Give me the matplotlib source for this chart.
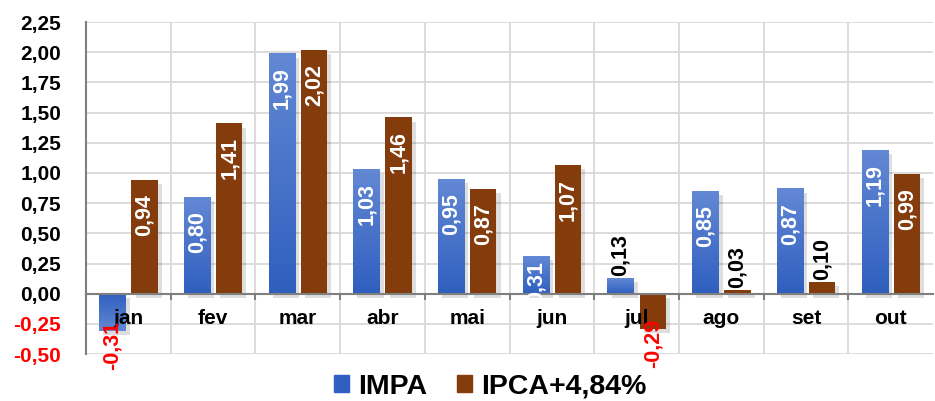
import numpy as np
import matplotlib
matplotlib.use("Agg")
import matplotlib.pyplot as plt
import matplotlib.patheffects as pe
from matplotlib.colors import LinearSegmentedColormap
from matplotlib.patches import Patch

plt.rcParams["font.family"] = ["Liberation Sans", "DejaVu Sans"]
plt.rcParams["font.weight"] = "bold"

months = ["jan", "fev", "mar", "abr", "mai", "jun", "jul", "ago", "set", "out"]
impa = [-0.31, 0.80, 1.99, 1.03, 0.95, 0.31, 0.13, 0.85, 0.87, 1.19]
ipca = [0.94, 1.41, 2.02, 1.46, 0.87, 1.07, -0.29, 0.03, 0.10, 0.99]
series_names = ["IMPA", "IPCA+4,84%"]
yticks = np.arange(-0.50, 2.26, 0.25)

BLUE_TOP, BLUE_BOT = "#6388d4", "#2f5fbf"
BROWN = "#843c0c"

fig = plt.figure(figsize=(9.35, 4.01), dpi=100)
ax = fig.add_axes([0.092, 0.117, 0.906, 0.828])

x = np.arange(len(months))
w, off = 0.31, 0.19
shadow = [pe.SimplePatchShadow(offset=(3, -3), alpha=0.13, shadow_rgbFace="#000000"), pe.Normal()]
b1 = ax.bar(x - off, impa, w, color=BLUE_BOT, zorder=3, path_effects=shadow)
b2 = ax.bar(x + off, ipca, w, color=BROWN, zorder=3, path_effects=shadow)

# light gradient on the blue bars
cmap = LinearSegmentedColormap.from_list("bl", [BLUE_BOT, BLUE_TOP])
grad = np.linspace(0, 1, 100).reshape(-1, 1)
for r, v in zip(b1, impa):
    x0 = r.get_x(); x1 = x0 + r.get_width()
    y0, y1 = (0, v) if v >= 0 else (v, 0)
    g = grad if v >= 0 else grad[::-1]
    ax.imshow(g, extent=[x0, x1, y0, y1], origin="lower", cmap=cmap, aspect="auto", zorder=3.5)

ax.set_xlim(-0.5, 9.5)
ax.set_ylim(-0.5, 2.25)
ax.set_yticks(yticks)
ax.set_yticklabels([f"{t:.2f}".replace(".", ",") for t in yticks])
for lab, t in zip(ax.get_yticklabels(), yticks):
    lab.set_color("red" if t < 0 else "black")
ax.tick_params(axis="y", length=0, pad=18, labelsize=15)

ax.set_xticks(x)
ax.set_xticklabels([])
ax.set_xticks(np.arange(0.5, 9.5, 1), minor=True)
ax.tick_params(axis="x", which="major", length=0)
ax.tick_params(axis="x", which="minor", length=4, width=1.5, color="#7f7f7f", direction="out")

# category names sit over the bars, just under the zero line
for xi, m in zip(x, months):
    ax.annotate(m, (xi, 0), xytext=(0, -15), textcoords="offset pixels", ha="center", va="top",
                fontsize=15, fontweight="bold", zorder=6)

ax.spines["bottom"].set_position(("data", 0))
ax.spines["bottom"].set_color("#7f7f7f")
ax.spines["bottom"].set_linewidth(1.5)
ax.spines["bottom"].set_zorder(4)
ax.spines["left"].set_color("#7f7f7f")
ax.spines["left"].set_linewidth(1.5)
ax.spines["top"].set_visible(False)
ax.spines["right"].set_visible(False)

ax.grid(axis="y", color="#d9d9d9", lw=1.3, zorder=0)
ax.grid(axis="x", which="minor", color="#d9d9d9", lw=1.3, zorder=0)
ax.set_axisbelow(True)

def label(xpos, v, inside_color):
    s = f"{v:.2f}".replace(".", ",")
    kw = dict(textcoords="offset pixels", rotation=90, ha="center", fontsize=15.5,
              fontweight="bold", zorder=7, annotation_clip=False)
    if v < 0:
        ax.annotate(s, (xpos, v), xytext=(0, 10), va="top", color="red", **kw)
    elif v < 0.2:
        ax.annotate(s, (xpos, v), xytext=(0, 2), va="bottom", color="black", **kw)
    else:
        pad = -5 if v < 0.5 else -14
        ax.annotate(s, (xpos, v), xytext=(0, pad), va="top", color=inside_color, **kw)

for xi, v in zip(x, impa):
    label(xi - off, v, "white")
for xi, v in zip(x, ipca):
    label(xi + off, v, "white")

handles = [Patch(color=BLUE_BOT), Patch(color=BROWN)]
fig.legend(handles=handles, labels=series_names, loc="center", bbox_to_anchor=(0.524, 0.036),
           ncol=2, frameon=False, handlelength=0.55, handleheight=0.55,
           handletextpad=0.3, columnspacing=1.05, prop={"weight": "bold", "size": 20.5})

fig.savefig("out.png", dpi=100)
